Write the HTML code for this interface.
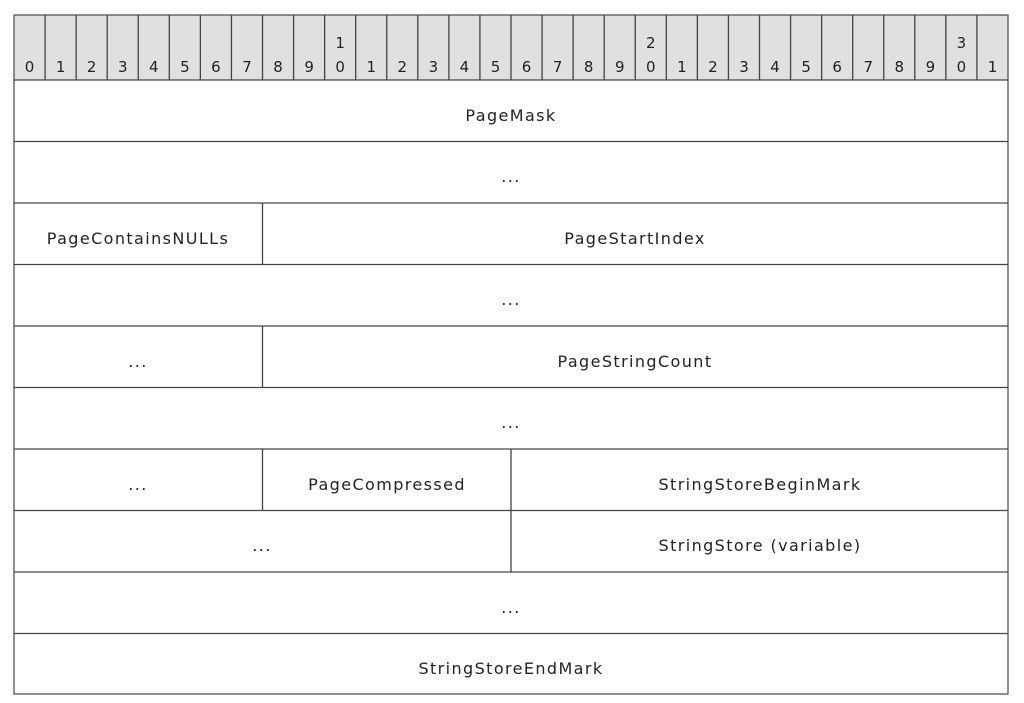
<!DOCTYPE html>
<html><head><meta charset="utf-8"><style>
html,body{margin:0;padding:0;background:#fff;width:1024px;height:703px;overflow:hidden}
text{font-family:"DejaVu Sans","Liberation Sans",sans-serif;font-size:15px;fill:#222}
.l text{font-size:16px;letter-spacing:1.4px}
</style></head><body>
<svg width="1024" height="703" xmlns="http://www.w3.org/2000/svg">
<rect x="14" y="15" width="994" height="65" fill="#e0e0e0"/>
<g stroke="#444" stroke-width="1.3" fill="none">
<rect x="14" y="15" width="994" height="679" stroke="#555"/>
<line x1="14" y1="80" x2="1008" y2="80"/>
<line x1="14" y1="141.5" x2="1008" y2="141.5"/>
<line x1="14" y1="203" x2="1008" y2="203"/>
<line x1="14" y1="264.5" x2="1008" y2="264.5"/>
<line x1="14" y1="326" x2="1008" y2="326"/>
<line x1="14" y1="387.5" x2="1008" y2="387.5"/>
<line x1="14" y1="449" x2="1008" y2="449"/>
<line x1="14" y1="510.5" x2="1008" y2="510.5"/>
<line x1="14" y1="572" x2="1008" y2="572"/>
<line x1="14" y1="633.5" x2="1008" y2="633.5"/>
<line x1="262.5" y1="203" x2="262.5" y2="264.5"/>
<line x1="262.5" y1="326" x2="262.5" y2="387.5"/>
<line x1="262.5" y1="449" x2="262.5" y2="510.5"/>
<line x1="511" y1="449" x2="511" y2="572"/>
</g>
<g stroke="#444" stroke-width="1.3" id="cols"></g>
<g id="hdr"></g>
<g text-anchor="middle" class="l">
<text x="511" y="121">PageMask</text>
<text x="511" y="182">...</text>
<text x="138" y="244">PageContainsNULLs</text>
<text x="635" y="244">PageStartIndex</text>
<text x="511" y="305">...</text>
<text x="138" y="367">...</text>
<text x="635" y="367">PageStringCount</text>
<text x="511" y="428">...</text>
<text x="138" y="490">...</text>
<text x="387" y="490">PageCompressed</text>
<text x="760" y="490">StringStoreBeginMark</text>
<text x="262" y="551">...</text>
<text x="760" y="551">StringStore (variable)</text>
<text x="511" y="613">...</text>
<text x="511" y="674">StringStoreEndMark</text>
</g>
<script>
var ns="http://www.w3.org/2000/svg",c=document.getElementById("cols"),h=document.getElementById("hdr");
for(var i=0;i<32;i++){var x=14+i*994/32;
if(i>0){var l=document.createElementNS(ns,"line");l.setAttribute("x1",x);l.setAttribute("x2",x);l.setAttribute("y1",15);l.setAttribute("y2",80);c.appendChild(l);}
var cx=x+994/64,t=document.createElementNS(ns,"text");t.setAttribute("x",cx);t.setAttribute("y",72);t.setAttribute("text-anchor","middle");t.textContent=i%10;h.appendChild(t);
if(i%10==0&&i>0){var t2=document.createElementNS(ns,"text");t2.setAttribute("x",cx);t2.setAttribute("y",48);t2.setAttribute("text-anchor","middle");t2.textContent=i/10;h.appendChild(t2);}}
</script>
</svg>
</body></html>
